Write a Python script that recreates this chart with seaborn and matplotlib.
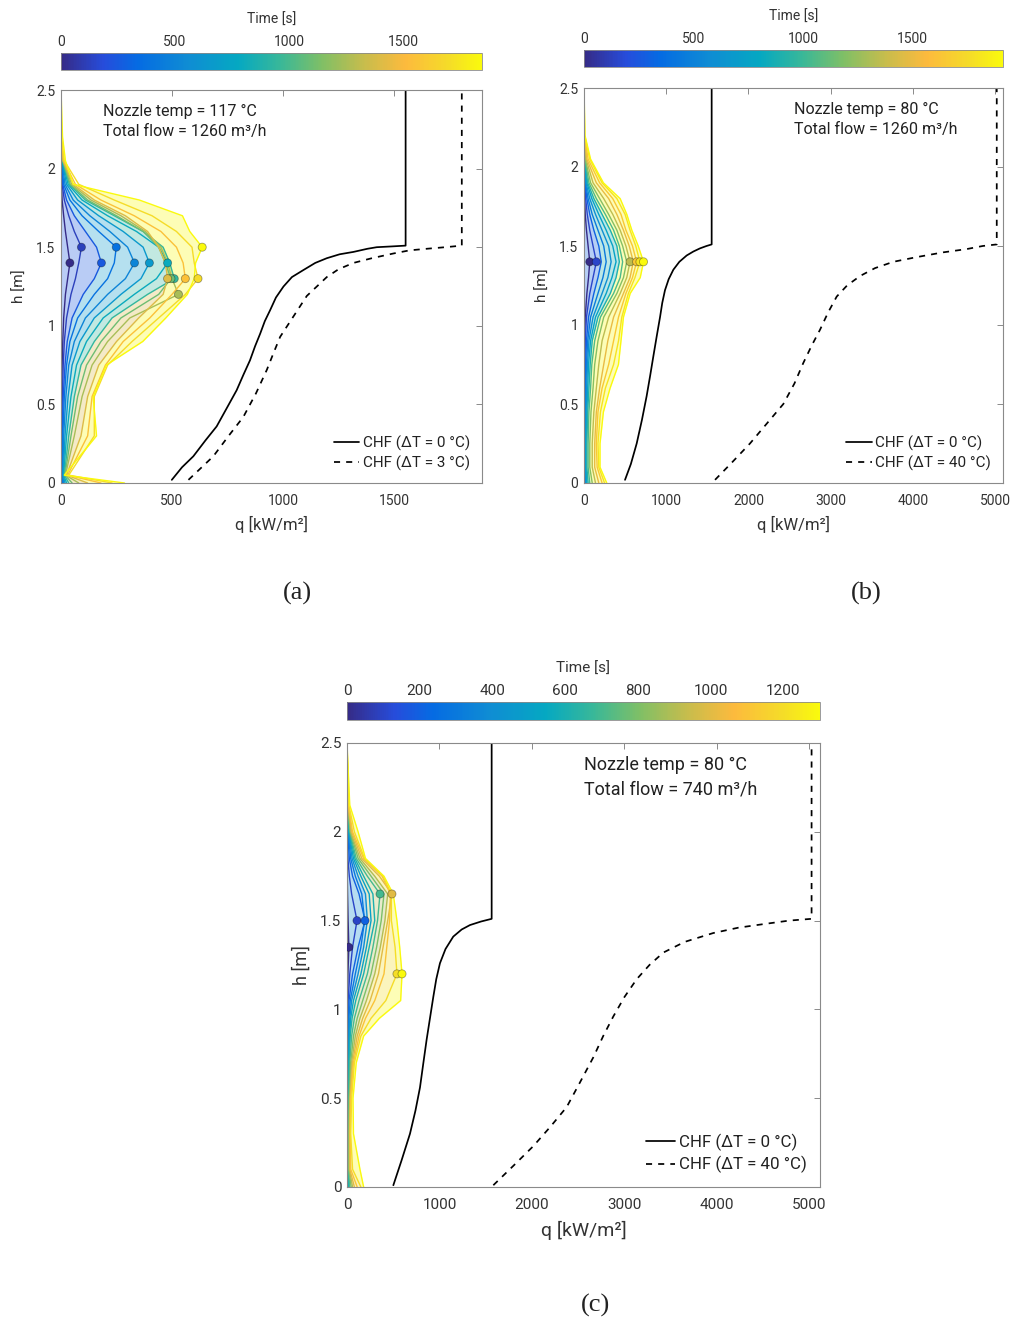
import numpy as np
import pandas as pd
import matplotlib
matplotlib.use("Agg")
import matplotlib.pyplot as plt
import seaborn as sns
from matplotlib.colors import LinearSegmentedColormap, Normalize
from matplotlib.cm import ScalarMappable
from matplotlib.ticker import FuncFormatter

sns.set_style("white")
plt.rcParams["font.family"] = ["Roboto", "DejaVu Sans"]

# ---------------- data ----------------
# panel (a)
H_A = [0, 0.05, 0.3, 0.55, 0.75, 0.9, 1.05, 1.2, 1.3, 1.4, 1.5, 1.6, 1.7, 1.8, 1.9, 2.05, 2.2, 2.5]
T_A = [0, 120, 250, 380, 500, 650, 800, 950, 1100, 1250, 1400, 1550, 1700, 1850]
Q_A = [
    [0, 0, 0, 2, 5, 8, 12, 20, 30, 40, 30, 20, 12, 5, 2, 0, 0, 0],
    [3, 2, 3, 6, 10, 15, 25, 45, 65, 80, 92, 60, 35, 15, 5, 1, 0, 0],
    [5, 3, 5, 10, 18, 28, 50, 100, 150, 182, 160, 110, 60, 25, 8, 2, 0, 0],
    [8, 5, 8, 15, 25, 40, 75, 150, 210, 240, 249, 170, 95, 40, 12, 3, 0, 0],
    [12, 8, 12, 22, 35, 60, 110, 210, 290, 331, 300, 220, 130, 55, 18, 4, 0, 0],
    [18, 10, 18, 32, 50, 85, 150, 270, 360, 398, 370, 280, 170, 75, 25, 5, 0, 0],
    [25, 12, 25, 45, 70, 115, 190, 330, 430, 480, 440, 340, 210, 95, 32, 6, 0, 0],
    [35, 15, 35, 60, 90, 150, 230, 390, 510, 490, 460, 370, 240, 110, 38, 7, 0, 0],
    [50, 18, 45, 75, 115, 180, 270, 440, 495, 470, 440, 370, 250, 120, 42, 8, 0, 0],
    [80, 20, 60, 95, 140, 210, 310, 529, 500, 480, 450, 380, 270, 135, 48, 9, 0, 0],
    [120, 25, 90, 120, 170, 250, 350, 460, 480, 470, 440, 390, 290, 150, 55, 10, 0, 0],
    [180, 30, 120, 140, 200, 280, 400, 500, 560, 550, 520, 450, 330, 180, 65, 12, 0, 0],
    [230, 35, 150, 150, 210, 320, 440, 560, 617, 600, 590, 520, 410, 240, 80, 15, 2, 0],
    [286, 15, 160, 145, 204, 368, 472, 569, 600, 606, 636, 580, 547, 353, 55, 20, 7, 0],
]
FILL_A = [2, 5, 7, 10, 13]
MARK_A = list(range(14))
CHF0_A_H = [0.02, 0.10, 0.17, 0.27, 0.36, 0.48, 0.59, 0.69, 0.78, 0.87, 0.95, 1.03, 1.10, 1.18,
            1.25, 1.31, 1.355, 1.40, 1.43, 1.455, 1.47, 1.49, 1.50, 1.505, 1.51, 2.5]
CHF0_A_Q = [499, 545, 596, 650, 701, 748, 791, 822, 851, 874, 897, 918, 942, 968,
            1002, 1040, 1092, 1145, 1197, 1255, 1317, 1380, 1422, 1490, 1552, 1552]
CHF1_A_H = [0.02, 0.17, 0.30, 0.42, 0.57, 0.72, 0.83, 0.93, 1.06, 1.19, 1.31, 1.36, 1.40,
            1.43, 1.46, 1.48, 1.49, 1.50, 1.51, 2.5]
CHF1_A_Q = [574, 686, 755, 821, 878, 927, 958, 987, 1047, 1107, 1197, 1250, 1317,
            1400, 1497, 1570, 1647, 1730, 1805, 1805]

# panel (b)
H_B = [0, 0.1, 0.25, 0.45, 0.6, 0.75, 0.9, 1.05, 1.2, 1.3, 1.4, 1.5, 1.6, 1.7, 1.8, 1.9, 2.05, 2.2, 2.5]
T_B = [0, 150, 300, 450, 600, 750, 900, 1050, 1200, 1350, 1500, 1650, 1800, 1913]
Q_B = [
    [2, 2, 2, 3, 4, 5, 8, 15, 35, 55, 70, 50, 30, 15, 8, 4, 1, 0, 0],
    [5, 4, 4, 6, 8, 10, 15, 30, 70, 110, 150, 110, 70, 40, 20, 8, 2, 0, 0],
    [10, 8, 8, 12, 15, 20, 30, 55, 120, 170, 210, 180, 120, 70, 35, 12, 3, 0, 0],
    [15, 12, 12, 18, 22, 30, 45, 80, 170, 230, 270, 240, 170, 100, 50, 18, 4, 0, 0],
    [25, 18, 18, 25, 32, 42, 60, 110, 220, 290, 330, 300, 220, 140, 70, 25, 5, 0, 0],
    [35, 25, 25, 35, 45, 55, 80, 140, 270, 340, 390, 350, 270, 180, 95, 35, 7, 0, 0],
    [50, 35, 35, 45, 60, 75, 100, 170, 320, 390, 430, 400, 320, 220, 120, 45, 9, 0, 0],
    [70, 50, 50, 60, 80, 95, 130, 200, 360, 440, 470, 430, 360, 260, 150, 60, 12, 0, 0],
    [100, 70, 70, 85, 110, 130, 170, 240, 400, 480, 520, 470, 400, 300, 190, 80, 16, 1, 0],
    [140, 100, 100, 120, 150, 180, 220, 300, 440, 520, 560, 510, 440, 350, 240, 110, 25, 2, 0],
    [180, 130, 130, 150, 190, 240, 290, 360, 480, 560, 600, 550, 480, 400, 300, 150, 35, 3, 0],
    [220, 160, 150, 170, 220, 300, 360, 420, 510, 590, 640, 590, 510, 450, 350, 190, 50, 5, 0],
    [250, 180, 170, 200, 260, 360, 420, 460, 540, 620, 680, 630, 560, 500, 400, 220, 70, 8, 0],
    [277, 195, 195, 236, 317, 419, 450, 480, 562, 684, 724, 660, 582, 521, 440, 236, 80, 12, 0],
]
FILL_B = [2, 6, 13]
MARK_B = [0, 1, 9, 11, 12, 13]
CHF0_B_H = [0.02, 0.12, 0.25, 0.40, 0.55, 0.68, 0.80, 0.93, 1.05, 1.14, 1.22, 1.29, 1.35, 1.40,
            1.44, 1.465, 1.485, 1.50, 1.51, 2.5]
CHF0_B_Q = [499, 570, 641, 705, 762, 805, 843, 885, 925, 952, 985, 1030, 1087, 1160,
            1249, 1330, 1411, 1490, 1553, 1553]
CHF1_B_H = [0.02, 0.13, 0.25, 0.38, 0.50, 0.63, 0.76, 0.87, 0.97, 1.08, 1.18, 1.25, 1.31, 1.36,
            1.40, 1.43, 1.46, 1.48, 1.50, 1.51, 2.5]
CHF1_B_Q = [1594, 1800, 2019, 2230, 2425, 2560, 2668, 2770, 2871, 2970, 3074, 3200, 3358, 3540,
            3763, 4050, 4371, 4650, 4850, 5021, 5021]

# panel (c)
H_C = [0, 0.1, 0.3, 0.5, 0.7, 0.85, 0.95, 1.05, 1.2, 1.35, 1.5, 1.65, 1.75, 1.85, 2.0, 2.15, 2.5]
T_C = [0, 100, 200, 300, 400, 500, 600, 700, 800, 900, 1000, 1100, 1200, 1300]
Q_C = [
    [1, 1, 1, 1, 2, 3, 4, 6, 10, 20, 12, 6, 3, 2, 1, 0, 0],
    [3, 2, 2, 3, 4, 6, 8, 12, 30, 60, 108, 50, 25, 10, 4, 1, 0],
    [5, 4, 4, 5, 7, 10, 14, 22, 60, 120, 195, 130, 60, 25, 8, 2, 0],
    [8, 6, 6, 8, 10, 14, 20, 35, 90, 150, 190, 160, 90, 40, 12, 3, 0],
    [12, 8, 8, 10, 14, 20, 30, 50, 120, 180, 220, 200, 120, 55, 16, 4, 0],
    [16, 10, 10, 12, 18, 28, 40, 70, 150, 210, 260, 240, 150, 70, 20, 5, 0],
    [20, 12, 12, 15, 22, 35, 55, 95, 180, 240, 300, 280, 180, 85, 25, 6, 0],
    [30, 15, 15, 20, 30, 50, 80, 130, 220, 280, 330, 357, 220, 100, 30, 7, 0],
    [45, 20, 20, 25, 40, 70, 110, 170, 260, 320, 370, 400, 260, 120, 35, 8, 0],
    [60, 25, 25, 30, 50, 90, 140, 210, 300, 360, 410, 440, 300, 140, 40, 10, 0],
    [80, 30, 30, 35, 60, 110, 170, 250, 340, 390, 440, 486, 350, 160, 50, 12, 0],
    [110, 40, 35, 40, 70, 130, 200, 300, 400, 430, 460, 470, 380, 180, 60, 15, 0],
    [150, 60, 40, 50, 80, 150, 260, 420, 540, 520, 480, 480, 390, 190, 80, 20, 0],
    [180, 140, 70, 65, 100, 180, 350, 580, 595, 570, 540, 500, 400, 200, 120, 30, 0],
]
FILL_C = [4, 9, 12, 13]
MARK_C = [0, 1, 2, 7, 10, 12, 13]
CHF0_C_H = [0.01, 0.15, 0.30, 0.43, 0.56, 0.70, 0.83, 0.95, 1.07, 1.17, 1.26, 1.34, 1.41,
            1.45, 1.475, 1.495, 1.51, 2.5]
CHF0_C_Q = [501, 590, 681, 740, 789, 826, 861, 897, 933, 965, 1005, 1065, 1149,
            1240, 1330, 1450, 1564, 1564]
CHF1_C_H = [0.01, 0.12, 0.23, 0.34, 0.45, 0.59, 0.73, 0.85, 0.96, 1.07, 1.17, 1.25, 1.32,
            1.38, 1.43, 1.46, 1.48, 1.50, 1.51, 2.5]
CHF1_C_Q = [1582, 1800, 2014, 2200, 2375, 2520, 2663, 2770, 2879, 3000, 3132, 3270, 3420,
            3650, 3960, 4230, 4500, 4780, 5023, 5023]

# ---------------- style ----------------
parula = LinearSegmentedColormap.from_list("parula_like", [
    (0.00, (0.21, 0.17, 0.53)),
    (0.10, (0.15, 0.30, 0.86)),
    (0.18, (0.02, 0.42, 0.89)),
    (0.30, (0.06, 0.55, 0.83)),
    (0.42, (0.02, 0.66, 0.76)),
    (0.52, (0.22, 0.72, 0.60)),
    (0.62, (0.50, 0.75, 0.40)),
    (0.72, (0.78, 0.74, 0.30)),
    (0.82, (0.99, 0.73, 0.24)),
    (0.92, (0.96, 0.86, 0.16)),
    (1.00, (0.98, 0.98, 0.05)),
])

TXT = "#333333"
SPINE = "#8a8a8a"
W, H = 1016, 1321
fig = plt.figure(figsize=(W / 100, H / 100), dpi=100)


def fr(x0, y0, x1, y1):
    return [x0 / W, 1 - y1 / H, (x1 - x0) / W, (y1 - y0) / H]


def gfmt(v, p):
    return f"{v:g}"


def panel(ax_rect, cb_rect, heights, times, profiles, tmax, fills, marks,
          c0h, c0q, c1h, c1q, xmax, xticks, cbticks, note, dlabel,
          fs=10, notefs=11.5, legfs=11, labfs=12, ylabfs=11, note_y=0.965):
    ax = fig.add_axes(fr(*ax_rect))
    cax = fig.add_axes(fr(*cb_rect))
    norm = Normalize(0, tmax)

    rows = []
    for t, qs in zip(times, profiles):
        for h, q in zip(heights, qs):
            rows.append({"time": t, "h": h, "q": q})
    df = pd.DataFrame(rows)

    # translucent bands between successive highlighted profiles
    prev = [0] * len(heights)
    for i in fills:
        ax.fill_betweenx(heights, prev, profiles[i], color=parula(norm(times[i])),
                         alpha=0.3, lw=0, zorder=1)
        prev = profiles[i]

    sns.lineplot(data=df, x="q", y="h", hue="time", units="time",
                 estimator=None, sort=False, palette=parula, hue_norm=norm,
                 legend=False, lw=1.0, ax=ax, zorder=2)

    pk = []
    for i in marks:
        j = int(np.argmax(profiles[i]))
        pk.append({"time": times[i], "h": heights[j], "q": profiles[i][j]})
    pk = pd.DataFrame(pk)
    sns.scatterplot(data=pk, x="q", y="h", hue="time", palette=parula,
                    hue_norm=norm, legend=False, s=34, edgecolor=(0, 0, 0, 0.35),
                    linewidth=0.6, ax=ax, zorder=3)

    chf0 = pd.DataFrame({"q": c0q, "h": c0h})
    chf1 = pd.DataFrame({"q": c1q, "h": c1h})
    sns.lineplot(data=chf0, x="q", y="h", sort=False, estimator=None,
                 color="black", lw=1.25, ax=ax, label="CHF (\u0394T = 0 \u00b0C)",
                 solid_joinstyle="round")
    sns.lineplot(data=chf1, x="q", y="h", sort=False, estimator=None,
                 color="black", lw=1.25, ls=(0, (3.5, 3.5)), ax=ax,
                 label=f"CHF (\u0394T = {dlabel} \u00b0C)")

    ax.set_xlim(0, xmax)
    ax.set_ylim(0, 2.5)
    ax.set_xticks(xticks)
    ax.set_yticks([0, 0.5, 1, 1.5, 2, 2.5])
    ax.xaxis.set_major_formatter(FuncFormatter(gfmt))
    ax.yaxis.set_major_formatter(FuncFormatter(gfmt))
    ax.tick_params(direction="in", top=True, right=True, length=4,
                   width=0.7, color=SPINE, labelcolor=TXT, labelsize=fs)
    ax.tick_params(axis="x", pad=8)
    ax.tick_params(axis="y", pad=4)
    for s in ax.spines.values():
        s.set_color(SPINE)
        s.set_linewidth(0.8)
    ax.set_xlabel("q [kW/m\u00b2]", color=TXT, fontsize=labfs, labelpad=6)
    ax.set_ylabel("h [m]", color=TXT, fontsize=ylabfs, labelpad=7)
    ax.grid(False)

    ax.text(0.5 if note[2] else 0.10, note_y, note[0] + "\n" + note[1],
            transform=ax.transAxes, ha="left", va="top", fontsize=notefs,
            color="#222222", linespacing=1.45)

    leg = ax.legend(loc="lower right", frameon=False, fontsize=legfs,
                    handlelength=1.7, handletextpad=0.2, labelspacing=0.3,
                    borderaxespad=0.4)
    for txt in leg.get_texts():
        txt.set_color("#222222")

    cb = fig.colorbar(ScalarMappable(norm=norm, cmap=parula), cax=cax,
                      orientation="horizontal")
    cax.xaxis.set_ticks_position("top")
    cax.xaxis.set_label_position("top")
    cb.set_ticks(cbticks)
    cax.xaxis.set_major_formatter(FuncFormatter(gfmt))
    cax.tick_params(direction="in", length=3, width=0.7, color="#555555",
                    labelcolor=TXT, labelsize=fs, pad=3)
    cb.outline.set_edgecolor(SPINE)
    cb.outline.set_linewidth(0.6)
    cax.set_xlabel("Time [s]", color=TXT, fontsize=fs, labelpad=8)
    return ax


panel((61, 90, 482, 483), (61, 53, 482, 70), H_A, T_A, Q_A, 1846, FILL_A, MARK_A,
      CHF0_A_H, CHF0_A_Q, CHF1_A_H, CHF1_A_Q, 1896, [0, 500, 1000, 1500],
      [0, 500, 1000, 1500],
      ("Nozzle temp = 117 \u00b0C", "Total flow = 1260 m\u00b3/h", False), "3")

panel((584, 88, 1003, 483), (584, 50, 1003, 67), H_B, T_B, Q_B, 1913, FILL_B, MARK_B,
      CHF0_B_H, CHF0_B_Q, CHF1_B_H, CHF1_B_Q, 5097, [0, 1000, 2000, 3000, 4000, 5000],
      [0, 500, 1000, 1500],
      ("Nozzle temp = 80 \u00b0C", "Total flow = 1260 m\u00b3/h", True), "40")

panel((347, 743, 820, 1187), (347, 702, 820, 720), H_C, T_C, Q_C, 1301, FILL_C, MARK_C,
      CHF0_C_H, CHF0_C_Q, CHF1_C_H, CHF1_C_Q, 5114, [0, 1000, 2000, 3000, 4000, 5000],
      [0, 200, 400, 600, 800, 1000, 1200],
      ("Nozzle temp = 80 \u00b0C", "Total flow = 740 m\u00b3/h", True), "40",
      fs=11, notefs=13, legfs=12.2, labfs=14, ylabfs=13, note_y=0.97)

for lab, x, y in [("(a)", 297, 593), ("(b)", 866, 593), ("(c)", 595, 1305)]:
    fig.text(x / W, 1 - y / H, lab, ha="center", va="center",
             fontsize=19, family=["Liberation Serif", "DejaVu Serif"], color="#222222")

fig.savefig("out.png", dpi=100, facecolor="white")
